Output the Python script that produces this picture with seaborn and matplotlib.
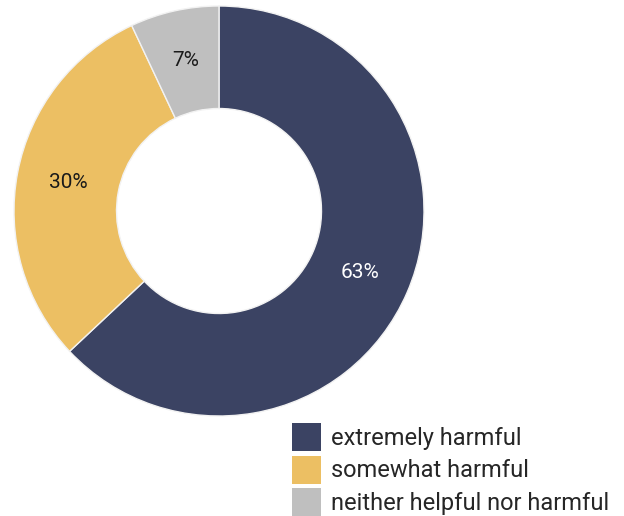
import matplotlib
matplotlib.use("Agg")
import matplotlib.pyplot as plt
from matplotlib.patches import Patch
import seaborn as sns

categories = ["extremely harmful", "somewhat harmful", "neither helpful nor harmful"]
shares = [63, 30, 7]
colors = ["#3b4363", "#ecbf63", "#bfbfbf"]
label_colors = ["white", "#1a1a1a", "#1a1a1a"]

sns.set_theme(style="white")
plt.rcParams["font.family"] = ["Roboto", "DejaVu Sans"]

fig = plt.figure(figsize=(6.24, 5.16), dpi=100)
ax = fig.add_axes([14 / 624, 100 / 516, 410 / 624, 410 / 516])

wedges, texts, autotexts = ax.pie(
    shares,
    colors=sns.color_palette(colors),
    startangle=90,
    counterclock=False,
    radius=1.0,
    autopct="%d%%",
    pctdistance=0.75,
    wedgeprops=dict(width=0.5, edgecolor="#f2f2f2", linewidth=1),
    textprops=dict(fontsize=15),
)
for t, c in zip(autotexts, label_colors):
    t.set_color(c)

ax.set_xlim(-1, 1)
ax.set_ylim(-1, 1)
ax.set_aspect("equal")
ax.axis("off")

handles = [Patch(facecolor=c, edgecolor="none") for c in colors]
fig.legend(
    handles,
    categories,
    loc="upper left",
    bbox_to_anchor=(292 / 624, 1 - 423 / 516),
    frameon=False,
    fontsize=17,
    handlelength=1.23,
    handleheight=1.45,
    handletextpad=0.42,
    labelspacing=0.19,
    borderpad=0,
    borderaxespad=0,
)

fig.savefig("out.png", dpi=100)
